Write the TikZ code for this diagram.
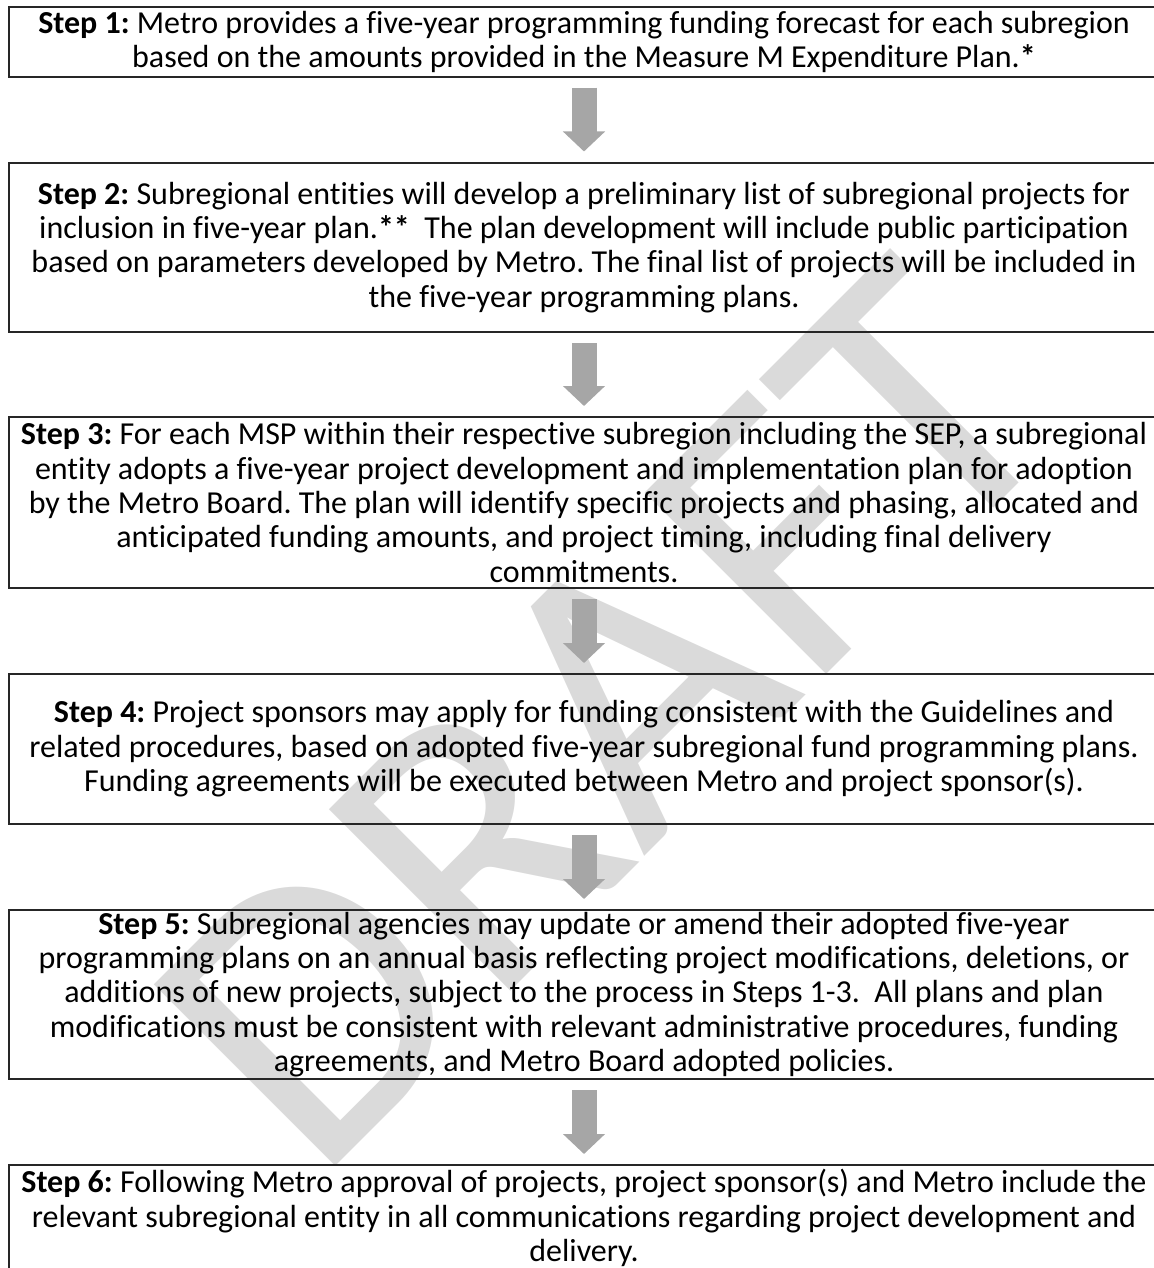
\documentclass[tikz,border=0pt]{standalone}
\usepackage{fontspec}
\setmainfont{Carlito}[Ligatures=NoCommon]
\usetikzlibrary{arrows.meta}
\definecolor{arrowgray}{RGB}{166,166,166}
\definecolor{markgray}{RGB}{218,218,218}
\definecolor{boxline}{RGB}{38,38,38}
\newcommand\stepfont{\fontsize{16pt}{17.2pt}\selectfont\frenchspacing}

\begin{document}
\begin{tikzpicture}[x=0.5pt, y=-0.5pt,
  stepbox/.style = {draw=boxline, line width=1pt, minimum width=575.3pt, align=center, inner sep=0pt, font=\stepfont},
  flow/.style = {line width=12.5pt, arrowgray, -{Triangle[width=20.5pt,length=10pt]}, shorten <=5pt, shorten >=5pt}]
	\useasboundingbox (0,0) rectangle (1154,1268);
	\clip (0,0) rectangle (1154,1268);
	\node[rotate=45, markgray, inner sep=0pt, font=\fontsize{200pt}{200pt}\selectfont] (mark) at (605,715) {DRAFT};
	\node[stepbox, minimum height=34.7pt] (s1) at (584,42) {\textbf{Step 1:} Metro provides a five-year programming funding forecast for each subregion\\ based on the amounts provided in the Measure M Expenditure Plan.\textbf{*}};
	\node[stepbox, minimum height=84.75pt] (s2) at (584,247.25) {\textbf{Step 2:} Subregional entities will develop a preliminary list of subregional projects for\\ inclusion in five-year plan.\textbf{**}\ \ The plan development will include public participation\\ based on parameters developed by Metro. The final list of projects will be included in\\ the five-year programming plans.};
	\node[stepbox, minimum height=85.5pt] (s3) at (584,502.5) {\textbf{Step 3:} For each MSP within their respective subregion including the SEP, a subregional\\ entity adopts a five-year project development and implementation plan for adoption\\ by the Metro Board. The plan will identify specific projects and phasing, allocated and\\ anticipated funding amounts, and project timing, including final delivery\\ commitments.};
	\node[stepbox, minimum height=75pt] (s4) at (584,749) {\textbf{Step 4:} Project sponsors may apply for funding consistent with the Guidelines and\\ related procedures, based on adopted five-year subregional fund programming plans.\\ Funding agreements will be executed between Metro and project sponsor(s).};
	\node[stepbox, minimum height=84.5pt] (s5) at (584,994.5) {\textbf{Step 5:} Subregional agencies may update or amend their adopted five-year\\ programming plans on an annual basis reflecting project modifications, deletions, or\\ additions of new projects, subject to the process in Steps 1-3.\ \ All plans and plan\\ modifications must be consistent with relevant administrative procedures, funding\\ agreements, and Metro Board adopted policies.};
	\node[stepbox, minimum height=53pt] (s6) at (584,1218) {\textbf{Step 6:} Following Metro approval of projects, project sponsor(s) and Metro include the\\ relevant subregional entity in all communications regarding project development and\\ delivery.};
	\draw[flow] (s1) -- (s2);
	\draw[flow] (s2) -- (s3);
	\draw[flow] (s3) -- (s4);
	\draw[flow] (s4) -- (s5);
	\draw[flow] (s5) -- (s6);
\end{tikzpicture}
\end{document}
